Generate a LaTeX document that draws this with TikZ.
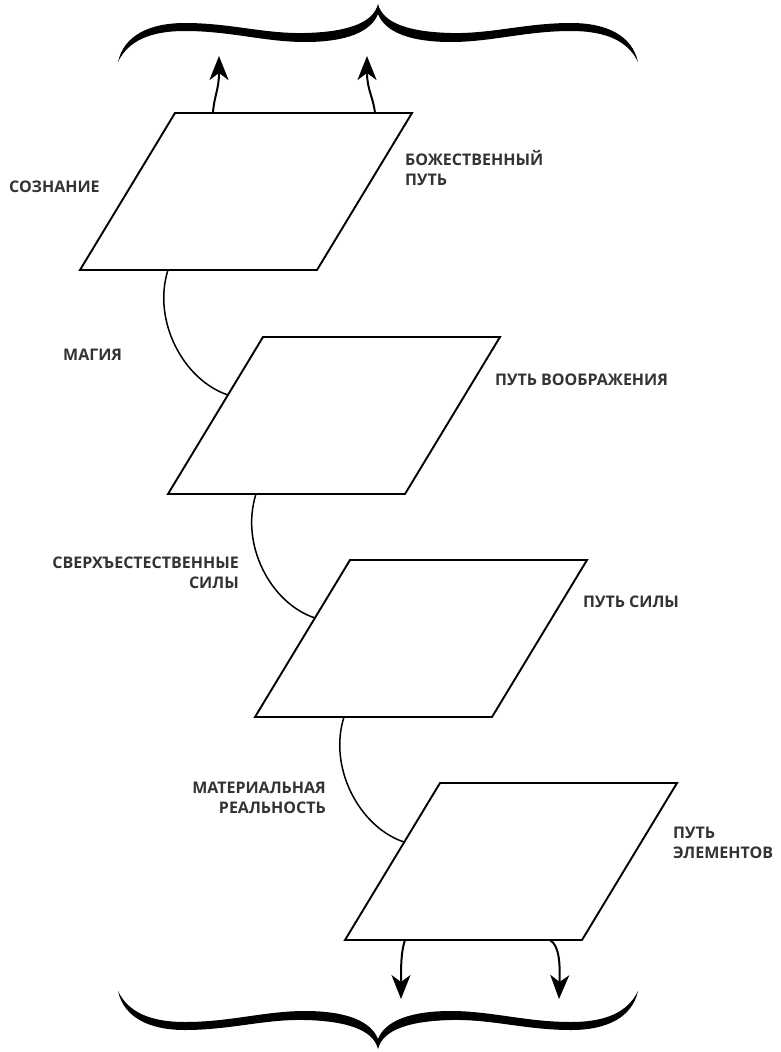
\documentclass[tikz,border=0pt]{standalone}
\usepackage{fontspec}
\newfontfamily\labfont{Open Sans}
\usetikzlibrary{arrows.meta}
\begin{document}
\begin{tikzpicture}[x=1pt,y=-1pt,
  plane/.style={draw=black, line width=1.9pt, line join=miter, fill=white},
  link/.style={draw=black, line width=1.5pt},
  arr/.style={draw=black, line width=2pt, -{Stealth[length=24pt,width=19pt,inset=7pt]}},
  lab/.style={font=\labfont\bfseries\fontsize{16}{20.5}\selectfont, text=black!80, inner sep=0pt},
  bracefill/.style={fill=black, draw=none}]
\useasboundingbox (0,0) rectangle (781,1052);
\fill[white] (0,0) rectangle (781,1052);

% plane corners
\coordinate (p1tl) at (175,113); \coordinate (p1tr) at (412,113);
\coordinate (p1br) at (317,270); \coordinate (p1bl) at (80,270);
\coordinate (p2tl) at (263,337); \coordinate (p2tr) at (500,337);
\coordinate (p2br) at (405,494); \coordinate (p2bl) at (168,494);
\coordinate (p3tl) at (350,560); \coordinate (p3tr) at (587,560);
\coordinate (p3br) at (492,717); \coordinate (p3bl) at (255,717);
\coordinate (p4tl) at (440,783); \coordinate (p4tr) at (677,783);
\coordinate (p4br) at (582,940); \coordinate (p4bl) at (345,940);

\draw[plane] (p1tl) -- (p1tr) -- (p1br) -- (p1bl) -- cycle;
\draw[plane] (p2tl) -- (p2tr) -- (p2br) -- (p2bl) -- cycle;
\draw[plane] (p3tl) -- (p3tr) -- (p3br) -- (p3bl) -- cycle;
\draw[plane] (p4tl) -- (p4tr) -- (p4br) -- (p4bl) -- cycle;

% connector ends
\coordinate (a1s) at (168,270); \coordinate (a1e) at (228,395);
\coordinate (a2s) at (256,494); \coordinate (a2e) at (315,618);
\coordinate (a3s) at (344,717); \coordinate (a3e) at (404,842);
\draw[link] (a1s) .. controls +(-16,50) and +(-45,-15) .. (a1e);
\draw[link] (a2s) .. controls +(-16,50) and +(-45,-15) .. (a2e);
\draw[link] (a3s) .. controls +(-16,50) and +(-45,-15) .. (a3e);

% arrows up / down
\coordinate (u1s) at (213,113); \coordinate (u1e) at (219,56);
\coordinate (u2s) at (375,113); \coordinate (u2e) at (367,56);
\coordinate (d1s) at (405,940); \coordinate (d1e) at (401,999);
\coordinate (d2s) at (550,940); \coordinate (d2e) at (559,999);
\draw[arr] (u1s) .. controls (214,96) and (219,90) .. (u1e);
\draw[arr] (u2s) .. controls (373,96) and (367,90) .. (u2e);
\draw[arr] (d1s) .. controls (401,952) and (401,966) .. (d1e);
\draw[arr] (d2s) .. controls (560,946) and (560,966) .. (d2e);

% braces
\newcommand\bracepath{%
  (118,62) .. controls (124,35) and (150,23) .. (185,23)
  .. controls (230,23) and (265,34) .. (305,33)
  .. controls (345,32) and (373,24) .. (378,4)
  .. controls (383,24) and (411,32) .. (451,33)
  .. controls (491,34) and (526,23) .. (571,23)
  .. controls (606,23) and (632,35) .. (638,62)
  .. controls (628,41) and (606,31) .. (571,31)
  .. controls (526,31) and (491,42) .. (451,42)
  .. controls (410,42) and (385,32) .. (378,14)
  .. controls (371,32) and (346,42) .. (305,42)
  .. controls (265,42) and (230,31) .. (185,31)
  .. controls (150,31) and (128,41) .. (118,62) -- cycle}
\fill[bracefill] \bracepath;
\begin{scope}[shift={(0,1053)}, yscale=-1]
\fill[bracefill] \bracepath;
\end{scope}

% labels
\node[lab, anchor=west] (sozn) at (9,187) {СОЗНАНИЕ};
\node[lab, anchor=west, align=left] (bozh) at (405,168) {БОЖЕСТВЕННЫЙ\\ПУТЬ};
\node[lab, anchor=west] (magia) at (63,355) {МАГИЯ};
\node[lab, anchor=west] (voobr) at (495,380) {ПУТЬ ВООБРАЖЕНИЯ};
\node[lab, anchor=east, align=right] (sverh) at (239,573) {СВЕРХЪЕСТЕСТВЕННЫЕ\\СИЛЫ};
\node[lab, anchor=west] (sila) at (583,602) {ПУТЬ СИЛЫ};
\node[lab, anchor=east, align=right] (mater) at (326,798) {МАТЕРИАЛЬНАЯ\\РЕАЛЬНОСТЬ};
\node[lab, anchor=west, align=left] (elem) at (673,843) {ПУТЬ\\ЭЛЕМЕНТОВ};
\end{tikzpicture}
\end{document}
